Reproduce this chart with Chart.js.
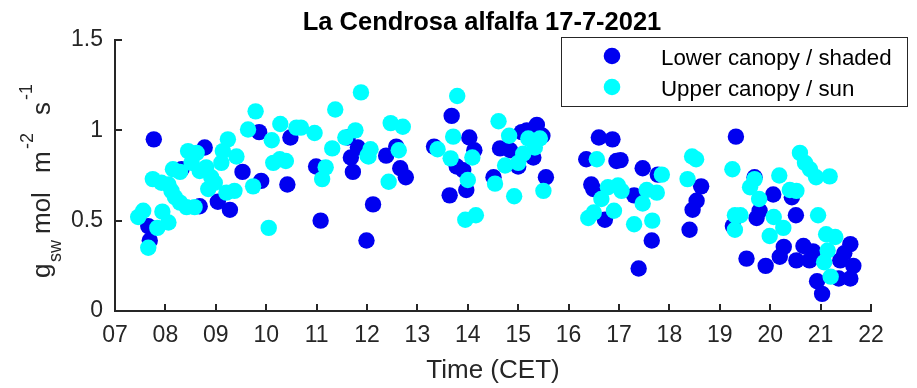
<!DOCTYPE html>
<html>
<head>
<meta charset="utf-8">
<script src="https://cdn.jsdelivr.net/npm/chart.js@4.4.1/dist/chart.umd.min.js"></script>
<style>
  html, body { margin: 0; padding: 0; background: #fff; }
  #wrap { width: 917px; height: 388px; }
</style>
</head>
<body>
<div id="wrap"><canvas id="chart" width="917" height="388"></canvas></div>
<script>
'use strict';

// Data: time (h, CET) and gsw (mol m-2 s-1)
const lowerTime = [7.66, 7.69, 7.77, 8.32, 8.68, 8.78, 9.04, 9.28, 9.53, 9.86, 9.90, 10.42, 10.48, 10.99, 11.08,
  11.62, 11.68, 11.72, 11.82, 11.99, 12.12, 12.38, 12.58, 12.66, 12.77, 13.33, 13.64, 13.68, 13.78, 13.91,
  13.97, 14.03, 14.13, 14.51, 14.64, 14.84, 15.00, 15.07, 15.17, 15.30, 15.37, 15.48, 15.55, 16.35, 16.45,
  16.49, 16.60, 16.72, 16.87, 16.95, 17.03, 17.30, 17.39, 17.47, 17.65, 17.77, 18.40, 18.46, 18.54, 18.63,
  19.26, 19.32, 19.53, 19.69, 19.73, 19.79, 19.91, 20.06, 20.19, 20.27, 20.43, 20.51, 20.52, 20.66, 20.78,
  20.85, 20.93, 21.03, 21.36, 21.39, 21.47, 21.59, 21.59, 21.65];
const lowerGsw = [0.47, 0.39, 0.95, 0.785, 0.58, 0.905, 0.605, 0.56, 0.77, 0.99, 0.72, 0.70, 0.96, 0.80, 0.50,
  0.96, 0.85, 0.77, 0.905, 0.39, 0.59, 0.86, 0.91, 0.79, 0.74, 0.91, 0.64, 1.08, 0.80, 0.78,
  0.67, 0.96, 0.89, 0.74, 0.90, 0.89, 0.80, 0.99, 1.00, 0.85, 1.03, 0.97, 0.74, 0.84, 0.70,
  0.675, 0.96, 0.505, 0.95, 0.83, 0.835, 0.64, 0.235, 0.79, 0.39, 0.755, 0.45, 0.56, 0.61, 0.69,
  0.47, 0.965, 0.29, 0.74, 0.515, 0.555, 0.25, 0.645, 0.30, 0.355, 0.63, 0.53, 0.28, 0.36, 0.28,
  0.33, 0.165, 0.095, 0.18, 0.28, 0.32, 0.37, 0.18, 0.25];

const upperTime = [7.46, 7.56, 7.66, 7.75, 7.84, 7.92, 7.94, 8.06, 8.06, 8.12, 8.15, 8.19, 8.29, 8.29, 8.42,
  8.45, 8.52, 8.58, 8.62, 8.68, 8.81, 8.85, 8.91, 8.98, 9.11, 9.14, 9.21, 9.24, 9.37, 9.41,
  9.64, 9.74, 9.79, 10.05, 10.11, 10.14, 10.27, 10.28, 10.39, 10.60, 10.69, 10.96, 11.11, 11.18, 11.31,
  11.37, 11.57, 11.77, 11.88, 12.01, 12.03, 12.07, 12.43, 12.47, 12.63, 12.71, 13.40, 13.66, 13.71, 13.79,
  13.95, 14.00, 14.09, 14.16, 14.54, 14.61, 14.74, 14.82, 14.92, 15.00, 15.10, 15.20, 15.33, 15.43, 15.50,
  16.39, 16.50, 16.56, 16.65, 16.78, 16.90, 16.98, 17.05, 17.30, 17.47, 17.55, 17.66, 17.75, 17.85, 18.36,
  18.45, 18.53, 19.25, 19.30, 19.30, 19.41, 19.60, 19.69, 19.78, 19.99, 20.07, 20.18, 20.26, 20.39, 20.52,
  20.59, 20.69, 20.79, 20.91, 20.95, 21.07, 21.11, 21.14, 21.18, 21.20, 21.29];
const upperGsw = [0.52, 0.555, 0.35, 0.73, 0.46, 0.71, 0.55, 0.49, 0.70, 0.665, 0.785, 0.63, 0.77, 0.60, 0.575,
  0.885, 0.82, 0.575, 0.875, 0.775, 0.795, 0.675, 0.74, 0.71, 0.82, 0.885, 0.655, 0.95, 0.665, 0.855,
  1.005, 0.69, 1.105, 0.46, 0.945, 0.82, 0.84, 1.035, 0.83, 1.015, 1.015, 0.985, 0.73, 0.795, 0.90,
  1.115, 0.96, 1.00, 1.21, 0.86, 0.855, 0.895, 0.715, 1.04, 0.89, 1.02, 0.895, 0.845, 0.965, 1.19,
  0.505, 0.725, 0.85, 0.53, 0.705, 1.05, 0.805, 0.97, 0.635, 0.82, 0.87, 0.955, 0.905, 0.955, 0.665,
  0.515, 0.545, 0.84, 0.62, 0.685, 0.555, 0.695, 0.665, 0.48, 0.595, 0.67, 0.50, 0.655, 0.755, 0.73,
  0.855, 0.84, 0.785, 0.45, 0.53, 0.53, 0.685, 0.73, 0.62, 0.415, 0.52, 0.75, 0.46, 0.67, 0.665,
  0.875, 0.82, 0.785, 0.74, 0.53, 0.27, 0.425, 0.335, 0.745, 0.19, 0.41];

const xTicks = [7, 8, 9, 10, 11, 12, 13, 14, 15, 16, 17, 18, 19, 20, 21, 22];
const yTicks = [0, 0.5, 1, 1.5];
const seriesNames = ['Lower canopy / shaded', 'Upper canopy / sun'];
const seriesColors = ['#0000f0', '#00ffff'];

const AXIS = '#262626';
const FONT = "'Liberation Sans', Arial, sans-serif";

const toPoints = (xs, ys) => xs.map((x, i) => ({ x, y: ys[i] }));

// inward tick marks, MATLAB style
const innerTicks = {
  id: 'innerTicks',
  beforeDatasetsDraw(chart) {
    const { ctx, chartArea: a, scales: { x, y } } = chart;
    ctx.save();
    ctx.strokeStyle = AXIS;
    ctx.lineWidth = 2;
    ctx.beginPath();
    xTicks.forEach(t => {
      const px = Math.round(x.getPixelForValue(t));
      ctx.moveTo(px, a.bottom);
      ctx.lineTo(px, a.bottom - 7);
    });
    yTicks.forEach(t => {
      const py = Math.round(y.getPixelForValue(t));
      ctx.moveTo(a.left, py);
      ctx.lineTo(a.left + 7, py);
    });
    ctx.stroke();
    ctx.restore();
  }
};

// title, axis titles and legend box
const decorations = {
  id: 'decorations',
  afterDraw(chart) {
    const { ctx, chartArea: a } = chart;
    ctx.save();

    ctx.fillStyle = '#000';
    ctx.textAlign = 'center';
    ctx.textBaseline = 'alphabetic';
    ctx.font = `bold 25.5px ${FONT}`;
    ctx.fillText('La Cendrosa alfalfa 17-7-2021', 482, 30);

    ctx.fillStyle = AXIS;
    ctx.font = `26px ${FONT}`;
    ctx.fillText('Time (CET)', (a.left + a.right) / 2, 378);

    // y title with sub/superscripts, drawn piece by piece
    const parts = [
      ['g', 26, 50, 278], ['sw', 18, 61, 262], ['mol', 26, 50, 234], ['m', 26, 50, 173],
      ['-2', 18, 33, 149], ['s', 26, 50, 115], ['-1', 18, 32, 100]
    ];
    ctx.textAlign = 'left';
    parts.forEach(([txt, size, bx, sy]) => {
      ctx.save();
      ctx.translate(bx, sy);
      ctx.rotate(-Math.PI / 2);
      ctx.font = `${size}px ${FONT}`;
      ctx.fillText(txt, 0, 0);
      ctx.restore();
    });

    // legend
    ctx.fillStyle = '#fff';
    ctx.fillRect(561, 37, 346, 69);
    ctx.strokeStyle = AXIS;
    ctx.lineWidth = 1;
    ctx.strokeRect(561.5, 37.5, 346, 69);
    const rows = [56, 87];
    ctx.font = `22.3px ${FONT}`;
    seriesNames.forEach((name, i) => {
      ctx.fillStyle = seriesColors[i];
      ctx.beginPath();
      ctx.arc(612, rows[i], 8.3, 0, Math.PI * 2);
      ctx.fill();
      ctx.fillStyle = '#000';
      ctx.fillText(name, 661, rows[i] + 9);
    });
    ctx.restore();
  }
};

Chart.defaults.font.family = FONT;

new Chart(document.getElementById('chart'), {
  type: 'scatter',
  data: {
    datasets: [
      { label: seriesNames[0], data: toPoints(lowerTime, lowerGsw), order: 1,
        backgroundColor: seriesColors[0], borderWidth: 0, pointRadius: 8.2, pointHoverRadius: 8.2 },
      { label: seriesNames[1], data: toPoints(upperTime, upperGsw), order: 0,
        backgroundColor: seriesColors[1], borderWidth: 0, pointRadius: 8.2, pointHoverRadius: 8.2 }
    ]
  },
  options: {
    responsive: false,
    animation: false,
    events: [],
    layout: { padding: { top: 40, right: 46, left: 0, bottom: 0 } },
    plugins: { legend: { display: false }, tooltip: { enabled: false }, title: { display: false } },
    scales: {
      x: {
        type: 'linear', min: 7, max: 22,
        afterBuildTicks: s => { s.ticks = xTicks.map(v => ({ value: v })); },
        afterFit: s => { s.height = 77; },
        grid: { display: false, drawTicks: false },
        border: { display: true, color: AXIS, width: 2 },
        ticks: { color: AXIS, font: { size: 23 }, padding: 11, autoSkip: false, maxRotation: 0,
          callback: v => String(v).padStart(2, '0') }
      },
      y: {
        type: 'linear', min: 0, max: 1.5,
        afterBuildTicks: s => { s.ticks = yTicks.map(v => ({ value: v })); },
        afterFit: s => { s.width = 115; },
        grid: { display: false, drawTicks: false },
        border: { display: true, color: AXIS, width: 2 },
        ticks: { color: AXIS, font: { size: 23 }, padding: 12, callback: v => String(v) }
      }
    }
  },
  plugins: [innerTicks, decorations]
});
</script>
</body>
</html>
